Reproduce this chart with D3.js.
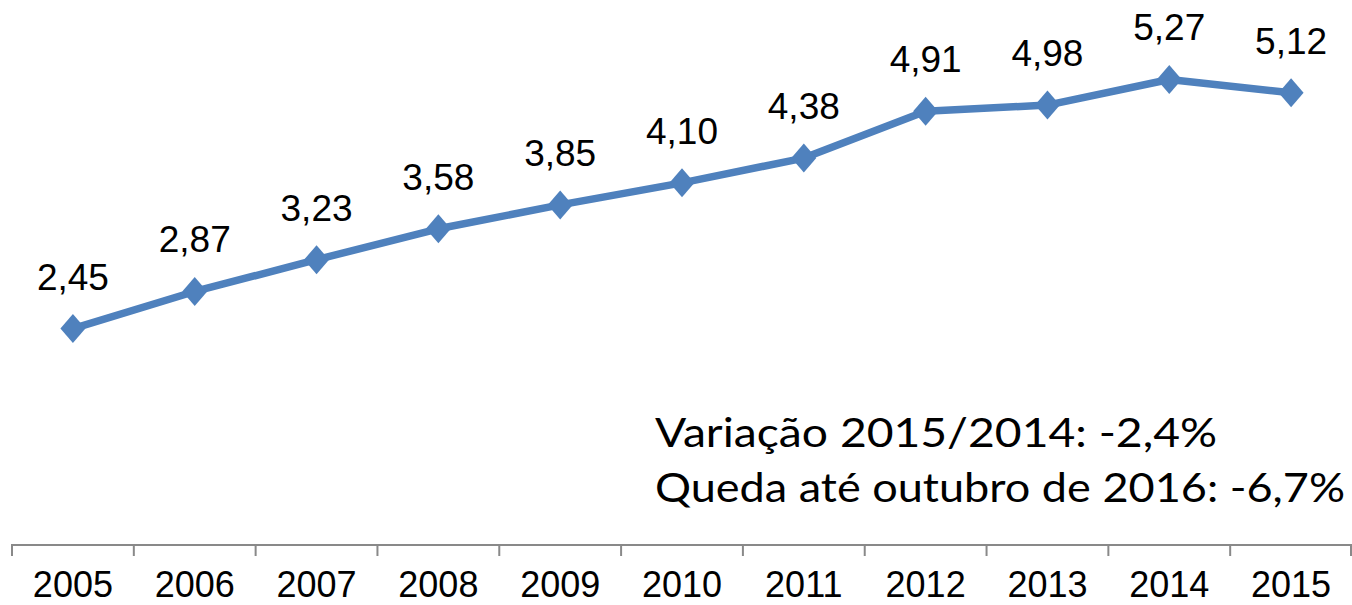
<!DOCTYPE html>
<html>
<head>
<meta charset="utf-8">
<script src="https://cdn.jsdelivr.net/npm/d3@7"></script>
<style>
  body { margin: 0; background: #fff; }
  svg { display: block; }
</style>
</head>
<body>
<div id="chart"></div>
<script>
var years = ["2005", "2006", "2007", "2008", "2009", "2010", "2011", "2012", "2013", "2014", "2015"];
var values = [2.45, 2.87, 3.23, 3.58, 3.85, 4.10, 4.38, 4.91, 4.98, 5.27, 5.12];
var notes = ["Variação 2015/2014: -2,4%", "Queda até outubro de 2016: -6,7%"];

var w = 1352, h = 605;
var svg = d3.select("#chart").append("svg")
    .attr("width", w).attr("height", h);

var xScale = d3.scaleBand()
    .domain(years)
    .range([12, 1352])
    .padding(0);
var yScale = d3.scaleLinear()
    .domain([0, 6])
    .range([545, 15]);

var fmt = function(v) { return d3.format(".2f")(v).replace(".", ","); };
var cx = function(d) { return xScale(d.year) + xScale.bandwidth() / 2; };

// axis
var axis = svg.append("g");
axis.append("line")
    .attr("x1", 12).attr("x2", 1352)
    .attr("y1", 545).attr("y2", 545)
    .attr("stroke", "#898989").attr("stroke-width", 2);
var bounds = years.map(function(y) { return xScale(y); }).concat([1351]);
axis.selectAll(".tick")
    .data(bounds)
    .enter().append("line")
    .attr("x1", function(d) { return d; })
    .attr("x2", function(d) { return d; })
    .attr("y1", 544).attr("y2", 556)
    .attr("stroke", "#898989").attr("stroke-width", 2);
axis.selectAll(".lbl")
    .data(years)
    .enter().append("text")
    .attr("x", function(d) { return xScale(d) + xScale.bandwidth() / 2; })
    .attr("y", 597)
    .attr("text-anchor", "middle")
    .style("font-family", "Liberation Sans, Arial, sans-serif")
    .style("font-size", "36px")
    .attr("fill", "#000")
    .text(function(d) { return d; });

var pts = years.map(function(y, i) { return {year: y, value: values[i]}; });

var pathMaker = d3.line()
    .x(cx)
    .y(function(d) { return yScale(d.value); });

svg.append("path")
    .datum(pts)
    .attr("d", pathMaker)
    .attr("fill", "none")
    .attr("stroke", "#4F81BD")
    .attr("stroke-width", 7.5)
    .attr("stroke-linejoin", "round");

// Excel-style diamond, slightly taller than wide
var diamondType = {
    draw: function(ctx) {
        ctx.moveTo(0, -14.5);
        ctx.lineTo(12.5, 0);
        ctx.lineTo(0, 14.5);
        ctx.lineTo(-12.5, 0);
        ctx.closePath();
    }
};
svg.selectAll(".marker")
    .data(pts)
    .enter().append("path")
    .attr("d", d3.symbol().type(diamondType))
    .attr("transform", function(d) {
        return "translate(" + cx(d) + "," + yScale(d.value) + ")";
    })
    .attr("fill", "#4F81BD");

svg.selectAll(".val")
    .data(pts)
    .enter().append("text")
    .attr("x", cx)
    .attr("y", function(d) { return yScale(d.value) - 39; })
    .attr("text-anchor", "middle")
    .style("font-family", "Liberation Sans, Arial, sans-serif")
    .style("font-size", "37px")
    .attr("fill", "#000")
    .text(function(d) { return fmt(d.value); });

var noteLen = [562, 690];
svg.selectAll(".note")
    .data(notes)
    .enter().append("text")
    .attr("x", 655)
    .attr("y", function(d, i) { return 447 + i * 55; })
    .attr("textLength", function(d, i) { return noteLen[i]; })
    .attr("lengthAdjust", "spacingAndGlyphs")
    .style("font-family", "Lato, 'Open Sans', sans-serif")
    .style("font-size", "41px")
    .attr("fill", "#000")
    .text(function(d) { return d; });
</script>
</body>
</html>
